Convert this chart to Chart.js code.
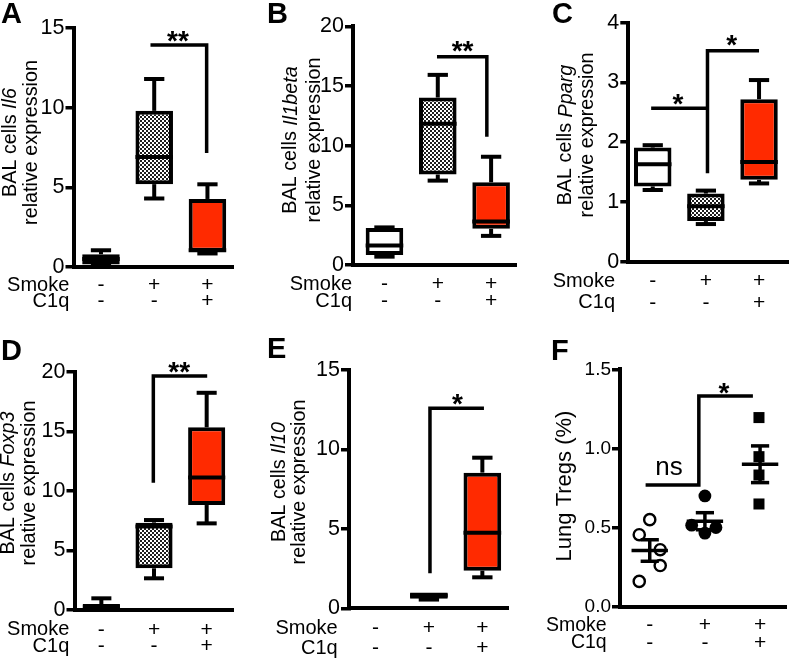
<!DOCTYPE html>
<html>
<head>
<meta charset="utf-8">
<script src="https://cdn.jsdelivr.net/npm/chart.js@4.4.1/dist/chart.umd.min.js"></script>
<style>
  html, body { margin: 0; padding: 0; background: #fff; }
  #wrap { position: relative; width: 794px; height: 659px; overflow: hidden; }
  #wrap canvas { position: absolute; left: 0; top: 0; }
</style>
</head>
<body>
<div id="wrap">
  <canvas id="pA" width="794" height="659"></canvas>
  <canvas id="pB" width="794" height="659"></canvas>
  <canvas id="pC" width="794" height="659"></canvas>
  <canvas id="pD" width="794" height="659"></canvas>
  <canvas id="pE" width="794" height="659"></canvas>
  <canvas id="pF" width="794" height="659"></canvas>
</div>
<script>
const FONT = "'Liberation Sans', Arial, Helvetica, sans-serif";
const RED = '#ff2a00';

// groups and the two label rows under the x axis
const groupX = [1, 2, 3];
const smokeRow = ['-', '+', '+'];
const c1qRow = ['-', '-', '+'];

// A - Il6 box plots (min, q1, median, q3, max per group)
const il6Min = [0.1, 4.3, 0.85];
const il6Q1 = [0.15, 5.2, 0.95];
const il6Med = [0.5, 6.9, 1.05];
const il6Q3 = [0.8, 9.8, 4.27];
const il6Max = [1.05, 11.8, 5.19];
const il6Sig = [[1.93, 13.93], [2.985, 13.93], [2.985, 7.15]];
const il6Ticks = [0, 5, 10, 15];

// B - Il1beta
const il1bMin = [0.7, 7.07, 2.44];
const il1bQ1 = [0.84, 7.58, 3.03];
const il1bMed = [1.63, 11.84, 3.65];
const il1bQ3 = [3.09, 14.03, 6.93];
const il1bMax = [3.15, 15.93, 9.07];
const il1bSig = [[1.985, 17.45], [2.92, 17.45], [2.92, 10.75]];
const il1bTicks = [0, 5, 10, 15, 20];

// C - Pparg
const ppargMin = [1.2, 0.63, 1.31];
const ppargQ1 = [1.26, 0.68, 1.37];
const ppargMed = [1.63, 0.93, 1.67];
const ppargQ3 = [1.91, 1.14, 2.72];
const ppargMax = [1.95, 1.19, 3.04];
const ppargSig1 = [[0.97, 2.57], [2.03, 2.57]];
const ppargSig2 = [[2.03, 1.48], [2.03, 3.53], [3.0, 3.53]];
const ppargTicks = [0, 1, 2, 3, 4];

// D - Foxp3
const foxp3Min = [0.1, 2.66, 7.27];
const foxp3Q1 = [0.14, 3.5, 8.81];
const foxp3Med = [0.3, 7.0, 11.13];
const foxp3Q3 = [0.5, 7.33, 15.33];
const foxp3Max = [0.98, 7.55, 18.23];
const foxp3Sig = [[1.987, 10.68], [1.987, 19.63], [3.01, 19.63]];
const foxp3Ticks = [0, 5, 10, 15, 20];

// E - Il10
const il10Min = [0.01, 0.55, 1.95];
const il10Q1 = [0.01, 0.6, 2.37];
const il10Med = [0.02, 0.8, 4.76];
const il10Q3 = [0.03, 1.0, 8.54];
const il10Max = [0.03, 1.0, 9.48];
const il10Sig = [[2.02, 2.2], [2.02, 12.6], [3.03, 12.6]];
const il10Ticks = [0, 5, 10, 15];

// F - lung Tregs, individual animals + mean/SEM
const tregCtrlX = [1.0, 0.81, 1.19, 1.19, 0.81];
const tregCtrl = [0.55, 0.455, 0.36, 0.26, 0.16];
const tregSmokeX = [2.0, 1.76, 2.2, 2.0];
const tregSmoke = [0.70, 0.515, 0.50, 0.465];
const tregC1qX = [2.98, 2.98, 2.98, 2.98];
const tregC1q = [1.195, 0.948, 0.832, 0.649];
const tregMean = [0.355, 0.54, 0.90];
const tregSem = [0.068, 0.054, 0.116];
const tregSig = [[0.925, 0.769], [1.89, 0.769], [1.89, 1.332], [2.87, 1.332]];
const tregTicks = [0, 0.5, 1.0, 1.5];

const Y_W = 40;
const AXIS_W = 4, BOX_W = 4, SIG_W = 3.5;

function checker(ctx) {
  const c = document.createElement('canvas');
  c.width = c.height = 4;
  const g = c.getContext('2d');
  g.fillStyle = '#fff'; g.fillRect(0, 0, 4, 4);
  g.fillStyle = '#1e1e1e'; g.fillRect(0, 0, 2, 2); g.fillRect(2, 2, 2, 2);
  return ctx.createPattern(c, 'repeat');
}

function seg(ctx, x1, y1, x2, y2) {
  ctx.beginPath(); ctx.moveTo(x1, y1); ctx.lineTo(x2, y2); ctx.stroke();
}

// text centred on its ink
function inkText(ctx, text, px, py, font) {
  ctx.font = font;
  ctx.textAlign = 'left'; ctx.textBaseline = 'alphabetic';
  const m = ctx.measureText(text);
  ctx.fillText(text, px + (m.actualBoundingBoxLeft - m.actualBoundingBoxRight) / 2,
    py + (m.actualBoundingBoxAscent - m.actualBoundingBoxDescent) / 2);
}

function rotTitle(ctx, parts, cx, cy, size) {
  ctx.save();
  ctx.translate(cx, cy);
  ctx.rotate(-Math.PI / 2);
  ctx.textBaseline = 'middle'; ctx.textAlign = 'left';
  const fonts = parts.map(pt => (pt[1] ? 'italic ' : '') + size + 'px ' + FONT);
  let total = 0;
  const w = parts.map((pt, i) => { ctx.font = fonts[i]; const v = ctx.measureText(pt[0]).width; total += v; return v; });
  let x0 = -total / 2;
  parts.forEach((pt, i) => { ctx.font = fonts[i]; ctx.fillText(pt[0], x0, 0); x0 += w[i]; });
  ctx.restore();
}

function makePanel(p) {
  const canvas = document.getElementById(p.id);
  const ctx = canvas.getContext('2d');
  const b = p.box;
  const datasets = [];
  if (b) {
    datasets.push({
      type: 'bar',
      data: groupX.map((g, i) => ({ x: g, y: [b.q1[i], b.q3[i]] })),
      backgroundColor: ['#ffffff', checker(ctx), RED],
      borderColor: '#000', borderWidth: BOX_W, borderSkipped: false,
      barPercentage: 0.705, categoryPercentage: 1
    });
  }
  (p.points || []).forEach(s => datasets.push({
    type: 'scatter',
    data: s.x.map((xv, i) => ({ x: xv, y: s.y[i] })),
    pointStyle: s.style, pointRadius: s.r, pointHoverRadius: s.r,
    pointBackgroundColor: s.fill, pointBorderColor: '#000', pointBorderWidth: s.bw,
    clip: false
  }));
  p.sig.forEach(line => datasets.push({
    type: 'line',
    data: line.map(pt => ({ x: pt[0], y: pt[1] })),
    borderColor: '#000', borderWidth: SIG_W, pointRadius: 0, fill: false, tension: 0, clip: false
  }));

  const deco = {
    id: 'deco',
    afterDatasetsDraw(chart) {
      const { ctx, scales: { x, y } } = chart;
      ctx.save();
      ctx.strokeStyle = '#000'; ctx.fillStyle = '#000'; ctx.lineCap = 'butt';
      if (b) {
        ctx.lineWidth = BOX_W;
        chart.getDatasetMeta(0).data.forEach((bar, i) => {
          const cx = bar.x, hw = bar.width / 2, cap = bar.width * 0.27;
          const pMax = y.getPixelForValue(b.max[i]), pQ3 = y.getPixelForValue(b.q3[i]);
          const pMin = y.getPixelForValue(b.min[i]), pQ1 = y.getPixelForValue(b.q1[i]);
          const pMed = y.getPixelForValue(b.med[i]);
          if (b.max[i] > b.q3[i]) { seg(ctx, cx, pQ3, cx, pMax); seg(ctx, cx - cap, pMax, cx + cap, pMax); }
          if (b.min[i] < b.q1[i]) { seg(ctx, cx, pQ1, cx, pMin); seg(ctx, cx - cap, pMin, cx + cap, pMin); }
          seg(ctx, cx - hw, pMed, cx + hw, pMed);
        });
      }
      if (p.mean) {
        ctx.lineWidth = 3.5;
        p.mean.forEach((m, i) => {
          const g = groupX[i];
          const pm = y.getPixelForValue(m);
          const hi = y.getPixelForValue(m + p.sem[i]), lo = y.getPixelForValue(m - p.sem[i]);
          seg(ctx, x.getPixelForValue(g - 0.33), pm, x.getPixelForValue(g + 0.33), pm);
          seg(ctx, x.getPixelForValue(g), hi, x.getPixelForValue(g), lo);
          seg(ctx, x.getPixelForValue(g - 0.165), hi, x.getPixelForValue(g + 0.165), hi);
          seg(ctx, x.getPixelForValue(g - 0.165), lo, x.getPixelForValue(g + 0.165), lo);
        });
      }
      p.stars.forEach(s => inkText(ctx, s[0], x.getPixelForValue(s[1]), y.getPixelForValue(s[2]), s[3]));
      ctx.restore();
    },
    afterDraw(chart) {
      const { ctx, scales: { x } } = chart;
      ctx.save();
      ctx.fillStyle = '#000';
      p.title.forEach((parts, i) => rotTitle(ctx, parts, p.titleX[i], p.titleY, p.titleSize));
      ctx.font = p.rowSize + 'px ' + FONT;
      ctx.textAlign = 'right'; ctx.textBaseline = 'middle';
      ['Smoke', 'C1q'].forEach((t, i) => ctx.fillText(t, p.rowRight, x.top + p.rowPad + p.rowLine / 2 + i * p.rowLine));
      ctx.font = 'bold 29px ' + FONT;
      ctx.textAlign = 'left'; ctx.textBaseline = 'alphabetic';
      ctx.fillText(p.letter, p.letterPos[0], p.letterPos[1]);
      ctx.restore();
    }
  };

  const a = p.area;
  const xH = Math.min(62, 659 - a[3]);
  return new Chart(ctx, {
    type: 'bar',
    data: { datasets },
    plugins: [deco],
    options: {
      responsive: false, animation: false, events: [],
      layout: { padding: { left: a[0] - Y_W, top: a[1], right: 794 - a[2], bottom: 659 - a[3] - xH } },
      plugins: { legend: { display: false }, tooltip: { enabled: false } },
      scales: {
        x: {
          type: 'linear', min: p.xRange[0], max: p.xRange[1], offset: false,
          grid: { display: false, drawTicks: false },
          border: { display: true, color: '#000', width: AXIS_W },
          afterBuildTicks: s => { s.ticks = groupX.map(v => ({ value: v })); },
          afterFit: s => { s.height = xH; },
          ticks: {
            color: '#000', padding: p.rowPad, autoSkip: false, maxRotation: 0,
            font: { family: FONT, size: 21, lineHeight: p.rowLine + 'px' },
            callback: v => { const i = Math.round(v) - 1; return [smokeRow[i], c1qRow[i]]; }
          }
        },
        y: {
          type: 'linear', min: 0, max: p.yTicks[p.yTicks.length - 1],
          afterBuildTicks: s => { s.ticks = p.yTicks.map(v => ({ value: v })); },
          afterFit: s => { s.width = Y_W; },
          grid: { drawOnChartArea: false, drawTicks: true, tickLength: 8, color: '#000', lineWidth: 3.5 },
          border: { display: true, color: '#000', width: AXIS_W },
          ticks: {
            color: '#000', padding: 1,
            font: { family: FONT, size: p.tickSize },
            callback: v => p.tickFixed ? v.toFixed(p.tickFixed) : String(v)
          }
        }
      }
    }
  });
}

const STAR = 'bold 28px ' + FONT;

makePanel({
  id: 'pA', letter: 'A', letterPos: [1, 23],
  area: [73.5, 28, 233, 267], xRange: [0.484, 3.48], yTicks: il6Ticks, tickSize: 21.5,
  title: [[['BAL cells ', false], ['Il6', true]], [['relative expression', false]]],
  titleX: [10.3, 32], titleY: 142.5, titleSize: 19.8,
  rowRight: 69.3, rowPad: 9.75, rowLine: 16.5, rowSize: 20,
  box: { min: il6Min, q1: il6Q1, med: il6Med, q3: il6Q3, max: il6Max },
  sig: [il6Sig], stars: [['**', 2.446, 14.49, STAR]]
});

makePanel({
  id: 'pB', letter: 'B', letterPos: [267, 23],
  area: [353, 26.3, 516.7, 265], xRange: [0.41, 3.48], yTicks: il1bTicks, tickSize: 21.5,
  title: [[['BAL cells ', false], ['Il1beta', true]], [['relative expression', false]]],
  titleX: [291, 315], titleY: 140, titleSize: 19.8,
  rowRight: 352, rowPad: 11.2, rowLine: 17, rowSize: 20,
  box: { min: il1bMin, q1: il1bQ1, med: il1bMed, q3: il1bQ3, max: il1bMax },
  sig: [il1bSig], stars: [['**', 2.466, 18.33, STAR]]
});

makePanel({
  id: 'pC', letter: 'C', letterPos: [552, 23],
  area: [628.3, 22.7, 788, 261.7], xRange: [0.54, 3.545], yTicks: ppargTicks, tickSize: 21.5,
  title: [[['BAL cells ', false], ['Pparg', true]], [['relative expression', false]]],
  titleX: [566, 587.5], titleY: 135, titleSize: 19.8,
  rowRight: 615, rowPad: 9, rowLine: 21.5, rowSize: 20,
  box: { min: ppargMin, q1: ppargQ1, med: ppargMed, q3: ppargQ3, max: ppargMax },
  sig: [ppargSig1, ppargSig2], stars: [['*', 1.473, 2.72, STAR], ['*', 2.487, 3.70, STAR]]
});

makePanel({
  id: 'pD', letter: 'D', letterPos: [1, 360],
  area: [74.5, 371.7, 233, 610], xRange: [0.49, 3.5], yTicks: foxp3Ticks, tickSize: 21.5,
  title: [[['BAL cells ', false], ['Foxp3', true]], [['relative expression', false]]],
  titleX: [8.5, 30], titleY: 483, titleSize: 19.8,
  rowRight: 69.3, rowPad: 11.6, rowLine: 16.7, rowSize: 20,
  box: { min: foxp3Min, q1: foxp3Q1, med: foxp3Med, q3: foxp3Q3, max: foxp3Max },
  sig: [foxp3Sig], stars: [['**', 2.48, 20.36, STAR]]
});

makePanel({
  id: 'pE', letter: 'E', letterPos: [267, 358],
  area: [349, 370, 508, 608.3], xRange: [0.505, 3.48], yTicks: il10Ticks, tickSize: 21.5,
  title: [[['BAL cells ', false], ['Il10', true]], [['relative expression', false]]],
  titleX: [279.5, 300], titleY: 482, titleSize: 19.8,
  rowRight: 337.7, rowPad: 10, rowLine: 20, rowSize: 20,
  box: { min: il10Min, q1: il10Q1, med: il10Med, q3: il10Q3, max: il10Max },
  sig: [il10Sig], stars: [['*', 2.536, 13.16, STAR]]
});

makePanel({
  id: 'pF', letter: 'F', letterPos: [551, 360],
  area: [620, 369.3, 793, 606.7], xRange: [0.461, 3.47], yTicks: tregTicks, tickSize: 19, tickFixed: 1,
  title: [[['Lung Tregs (%)', false]]],
  titleX: [565], titleY: 486, titleSize: 22,
  rowRight: 606.7, rowPad: 10.3, rowLine: 17.3, rowSize: 19.5,
  points: [
    { x: tregCtrlX, y: tregCtrl, style: 'circle', r: 5.6, fill: '#fff', bw: 2.4 },
    { x: tregSmokeX, y: tregSmoke, style: 'circle', r: 6.4, fill: '#000', bw: 0 },
    { x: tregC1qX, y: tregC1q, style: 'rect', r: 7.8, fill: '#000', bw: 0 }
  ],
  mean: tregMean, sem: tregSem,
  sig: [tregSig], stars: [['*', 2.344, 1.38, STAR], ['ns', 1.358, 0.875, '26px ' + FONT]]
});
</script>
</body>
</html>
